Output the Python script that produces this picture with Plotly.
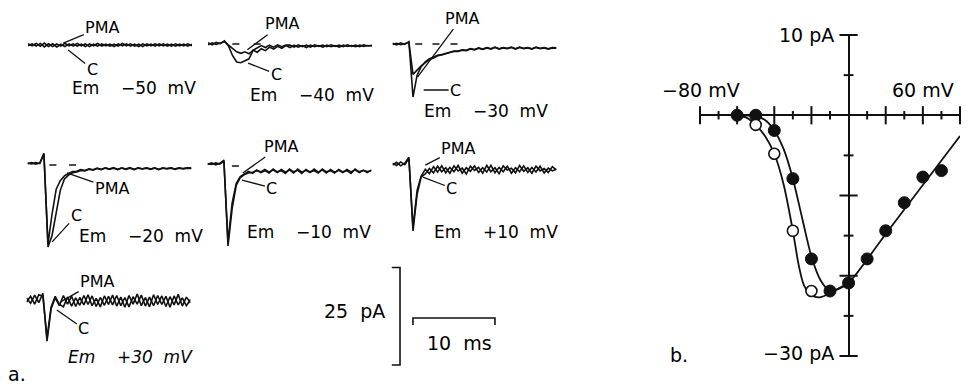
import plotly.graph_objects as go

W, H = 969, 385

# ---------------- data: panel a (current traces, pA vs ms) ----------------
T_MS = [0.0, 0.5, 1.0, 1.5, 2.0, 2.5, 3.0, 3.5, 4.0, 4.5,
        5.0, 5.5, 6.0, 6.5, 7.0, 7.5, 8.0, 8.5, 9.0, 9.5,
        10.0, 10.5, 11.0, 11.5, 12.0, 12.5, 13.0, 13.5, 14.0, 14.5,
        15.0, 15.5, 16.0, 16.5, 17.0, 17.5, 18.0, 18.5, 19.0, 19.5,
        20.0]

C_M50 = [0.3, -0.2, 0.4, -0.3, 0.5, -0.4, 0.3, -0.5, 0.2, -0.4,
         0.3, -0.3, 0.4, -0.2, 0.3, -0.4, 0.2, -0.3, 0.3, -0.2,
         0.2, -0.4, 0.3, -0.2, 0.3, -0.3, 0.2, -0.4, 0.3, -0.2,
         0.2, -0.3, 0.3, -0.2, 0.2, -0.3, 0.3, -0.2, 0.2, -0.3,
         0.2]
P_M50 = [-0.2, 0.3, -0.3, 0.4, -0.5, 0.3, -0.4, 0.3, -0.3, 0.4,
         -0.2, 0.3, -0.3, 0.2, -0.4, 0.3, -0.2, 0.4, -0.3, 0.2,
         -0.3, 0.2, -0.3, 0.4, -0.2, 0.3, -0.3, 0.2, -0.4, 0.3,
         -0.2, 0.3, -0.2, 0.3, -0.3, 0.2, -0.3, 0.2, -0.2, 0.3,
         -0.2]

C_M40 = [0.3, -0.2, 0.4, 0.1, 0.8, -0.5, -3.0, -4.6, -4.8, -4.3,
         -3.8, -1.6, -0.9, -0.4, -0.9, -0.3, -0.8, -0.2, -0.7, -0.3,
         -0.3, -0.8, -0.2, -0.7, -0.3, -0.8, -0.2, -0.6, -0.3, -0.7,
         -0.2, -0.6, -0.3, -0.7, -0.2, -0.6, -0.3, -0.7, -0.2, -0.5,
         -0.3]
P_M40 = [-0.2, 0.3, -0.1, 0.2, 0.6, -0.3, -1.2, -2.0, -2.4, -2.0,
         -2.5, -1.6, -2.1, -1.2, -1.7, -0.8, -1.3, -0.6, -1.1, -0.4,
         -0.9, -0.3, -0.8, -0.4, -0.9, -0.3, -0.7, -0.4, -0.8, -0.3,
         -0.7, -0.4, -0.8, -0.3, -0.6, -0.4, -0.7, -0.3, -0.6, -0.4,
         -0.5]

C_M30 = [0.2, -0.2, 0.3, -0.1, 0.6, -13.6, -8.0, -5.8, -4.6, -3.8,
         -3.4, -2.9, -2.7, -2.3, -2.1, -1.8, -1.8, -1.5, -1.6, -1.2,
         -1.4, -1.0, -1.3, -0.9, -1.2, -0.8, -1.2, -0.9, -1.1, -0.8,
         -1.2, -0.8, -1.1, -0.9, -1.2, -0.8, -1.1, -0.9, -1.2, -0.9,
         -1.0]
P_M30 = [-0.1, 0.2, -0.2, 0.2, 0.4, -7.8, -6.6, -5.6, -4.8, -4.0,
         -3.6, -3.0, -2.8, -2.4, -2.2, -1.9, -1.9, -1.6, -1.7, -1.3,
         -1.5, -1.1, -1.4, -1.0, -1.3, -0.9, -1.3, -1.0, -1.2, -0.9,
         -1.3, -0.9, -1.2, -1.0, -1.3, -0.9, -1.2, -1.0, -1.3, -1.0,
         -1.1]

C_M20 = [0.3, 0.6, 0.2, 0.5, 3.0, -21.0, -18.0, -12.0, -6.5, -3.6,
         -2.6, -2.0, -1.8, -1.4, -1.5, -1.1, -1.3, -0.9, -1.2, -0.8,
         -1.1, -0.7, -1.2, -0.8, -1.1, -0.7, -1.2, -0.8, -1.0, -0.7,
         -1.1, -0.8, -1.2, -0.7, -1.0, -0.8, -1.1, -0.7, -1.0, -0.8,
         -0.9]
P_M20 = [0.5, 0.3, 0.6, 0.4, 2.8, -20.2, -12.5, -6.2, -4.0, -2.8,
         -2.2, -1.7, -1.6, -1.2, -1.4, -1.0, -1.2, -0.8, -1.1, -0.7,
         -1.0, -0.8, -1.1, -0.7, -1.0, -0.8, -1.1, -0.7, -1.0, -0.8,
         -1.0, -0.7, -1.1, -0.8, -0.9, -0.7, -1.0, -0.8, -0.9, -0.7,
         -0.8]

C_M10 = [0.4, 0.8, 0.3, 0.7, 1.5, -20.5, -11.0, -5.0, -3.0, -2.2,
         -1.8, -1.6, -1.2, -1.5, -0.9, -1.6, -1.0, -1.7, -0.9, -1.6,
         -1.0, -1.8, -0.8, -1.6, -1.1, -1.7, -0.8, -1.6, -1.0, -1.8,
         -0.9, -1.6, -1.1, -1.7, -0.9, -1.5, -1.0, -1.7, -1.1, -1.4,
         -1.2]
P_M10 = [0.6, 0.4, 0.8, 0.5, 1.2, -19.5, -9.5, -4.5, -2.7, -2.0,
         -1.4, -1.9, -1.0, -1.7, -1.2, -1.8, -0.8, -1.5, -1.2, -1.9,
         -0.8, -1.5, -1.1, -1.9, -0.9, -1.5, -1.2, -1.8, -0.8, -1.5,
         -1.2, -1.8, -0.9, -1.5, -1.2, -1.9, -0.8, -1.5, -1.1, -1.7,
         -1.0]

C_P10 = [0.5, 1.2, 0.3, 1.0, 2.5, -16.4, -7.0, -2.5, -1.8, -0.4,
         -1.5, 0.2, -1.2, -0.2, -1.6, 0.3, -1.0, -0.3, -1.8, 0.2,
         -0.9, -0.1, -1.6, 0.4, -1.2, -0.2, -1.7, 0.3, -0.8, -0.3,
         -1.5, 0.4, -1.1, -0.2, -1.6, 0.2, -1.0, -0.4, -1.4, 0.1,
         -0.8]
P_P10 = [1.0, 0.4, 1.3, 0.6, 2.2, -15.5, -6.0, -2.3, -0.6, -1.7,
         0.1, -1.3, 0.3, -1.5, -0.1, -1.2, 0.4, -1.6, -0.2, -1.1,
         0.3, -1.4, -0.2, -1.3, 0.4, -1.5, -0.1, -1.2, 0.2, -1.6,
         -0.2, -1.2, 0.3, -1.4, -0.1, -1.3, 0.2, -1.5, -0.3, -1.0,
         -0.5]

C_P30 = [0.8, -0.6, 1.5, -0.4, 2.0, -10.3, -2.0, 0.8, -1.2, 1.4,
         -0.8, 1.2, -1.4, 0.9, -1.0, 1.6, -1.2, 0.7, -1.5, 1.3,
         -0.9, 1.5, -1.3, 1.0, -1.6, 1.4, -0.8, 1.8, -1.2, 0.9,
         -1.5, 1.6, -0.9, 1.3, -1.4, 1.1, -1.0, 1.7, -1.3, 1.0,
         -0.5]
P_P30 = [-0.3, 1.2, -0.8, 1.6, 1.2, -9.5, -1.5, 1.2, -0.8, -1.5,
         1.0, -1.3, 0.8, -1.1, 1.4, -0.9, 1.3, -1.4, 0.9, -1.1,
         1.2, -1.0, 1.4, -1.2, 0.9, -1.5, 1.1, -0.8, 1.5, -1.3,
         1.0, -1.2, 1.4, -0.9, 1.2, -1.6, 1.3, -1.0, 0.8, -1.2,
         0.4]

TRACE_LABELS = ["−50 mV", "−40 mV", "−30 mV", "−20 mV", "−10 mV", "+10 mV", "+30 mV"]
C_TRACES = [C_M50, C_M40, C_M30, C_M20, C_M10, C_P10, C_P30]
P_TRACES = [P_M50, P_M40, P_M30, P_M20, P_M10, P_P10, P_P30]
# zero-current reference dashes (ms)
ZERO_DASH_T = [[], [3.4, 6.0], [3.2, 5.3, 7.5], [3.1, 5.5], [3.4], [], []]

SCALE_MS = 10
SCALE_PA = 25

# ---------------- data: panel b (I-V relation) ----------------
V_FILLED = [-60, -50, -40, -30, -20, -10, 0, 10, 20, 30, 40, 50]
I_FILLED = [0.0, 0.0, -1.9, -7.9, -17.9, -21.9, -20.9, -17.9, -14.4, -10.9, -7.7, -6.9]
V_OPEN = [-50, -40, -30, -20]
I_OPEN = [-1.2, -4.8, -14.4, -21.9]
FIT_FILLED_V = [-60, -50, -45, -40, -35, -30, -25, -20, -15, -10, -5, 0, 20, 40, 60]
FIT_FILLED_I = [0.0, -0.1, -0.6, -1.9, -4.2, -7.9, -12.8, -17.6, -20.6, -21.9, -21.6, -20.9, -14.8, -8.7, -2.6]
FIT_OPEN_V = [-60, -55, -50, -45, -40, -35, -30, -27, -24, -20, -16, -12, -8, -4, 0]
FIT_OPEN_I = [0.0, -0.3, -1.2, -2.6, -4.8, -8.6, -14.4, -18.5, -21.2, -22.4, -22.7, -22.4, -21.9, -21.4, -20.9]
IV_XTICK_MAJOR = [-80, -60, -40, -20, 20, 40, 60]
IV_XTICK_MINOR = [-70, -50, -30, -10, 10, 30, 50]
IV_YTICK_MAJOR = [10, -10, -20, -30]
IV_YTICK_MINOR = [5, -5, -15, -25]

# ---------------- layout geometry (pixels) ----------------
PX_MS = 8.2
PX_PA = 3.9
# left px, zero-current px, I range
TRACE_BOX = [(28, 45, -24, 6), (208, 44, -24, 6), (392.5, 44, -24, 6),
             (27.5, 165, -24, 6), (207.5, 166, -24, 6), (392.5, 167, -24, 6),
             (26.5, 301, -12, 5)]
FONT = "DejaVu Sans"
INK = "#111111"


def xd(px0, px1):
    return [px0 / W, px1 / W]


def yd(top, bottom):
    return [1 - bottom / H, 1 - top / H]


def px(x, y):
    return x / W, 1 - y / H


fig = go.Figure()
layout = dict(width=W, height=H, margin=dict(l=0, r=0, t=0, b=0),
              paper_bgcolor="white", plot_bgcolor="rgba(0,0,0,0)",
              showlegend=False, font=dict(family=FONT, color="black"))
ann = []

hidden = dict(visible=False, fixedrange=True)

for k, (left, zero, imin, imax) in enumerate(TRACE_BOX):
    n = k + 1
    xa = "xaxis" if n == 1 else f"xaxis{n}"
    ya = "yaxis" if n == 1 else f"yaxis{n}"
    xr = "x" if n == 1 else f"x{n}"
    yr = "y" if n == 1 else f"y{n}"
    layout[xa] = dict(hidden, domain=xd(left, left + 20 * PX_MS), range=[0, 20], anchor=yr)
    layout[ya] = dict(hidden, domain=yd(zero - imax * PX_PA, zero - imin * PX_PA),
                      range=[imin, imax], anchor=xr)
    for series in (P_TRACES[k], C_TRACES[k]):
        fig.add_trace(go.Scatter(x=T_MS, y=series, xaxis=xr, yaxis=yr, mode="lines",
                                 line=dict(color=INK, width=1.6), hoverinfo="skip"))
    if ZERO_DASH_T[k]:
        fig.add_trace(go.Scatter(x=ZERO_DASH_T[k], y=[0] * len(ZERO_DASH_T[k]),
                                 xaxis=xr, yaxis=yr, mode="markers",
                                 marker=dict(symbol="line-ew", size=5,
                                             line=dict(color=INK, width=1.6)),
                                 hoverinfo="skip"))

# label pointers: (trace idx, PMA tip t, I, ax, ay, C tip t, I, ax, ay, Em centre px)
LABELS = [
    (0, 4.3, 0.5, 39, -16, 4.9, -1.3, 24, 19, (134, 88)),
    (1, 4.8, -1.5, 35, -26, 4.9, -4.9, 28, 11, (312, 95)),
    (2, 3.05, -8.5, 44, -59, 3.8, -11.8, 32, 0, (486, 111)),
    (3, 4.8, -2.0, 45, 16, 3.0, -19.7, 24, -26, (141, 236)),
    (4, 4.3, -1.8, 38, -27, 4.2, -3.6, 30, 8, (309, 232)),
    (5, 4.0, 0.5, 33, -17, 3.7, -2.6, 29, 11, (496, 232)),
    (6, 4.1, -0.3, 37, -21, 3.7, -2.3, 27, 19, (130, 357)),
]
NB = "\u00a0"
for (k, pt, pi, pax, pay, ct, ci, cax, cay, em) in LABELS:
    n = k + 1
    xr = "x" if n == 1 else f"x{n}"
    yr = "y" if n == 1 else f"y{n}"
    common = dict(xref=xr, yref=yr, showarrow=True, arrowhead=0, arrowwidth=1.3,
                  arrowcolor=INK, font=dict(size=16, family=FONT, color="black"))
    ann.append(dict(common, x=pt, y=pi, ax=pax, ay=pay, text="PMA"))
    ann.append(dict(common, x=ct, y=ci, ax=cax, ay=cay, text="C"))
    ex, ey = px(*em)
    txt = "Em" + NB * 4 + TRACE_LABELS[k].replace(" ", NB * 2)
    if k == 6:
        txt = "<i>" + txt + "</i>"
    ann.append(dict(x=ex, y=ey, xref="paper", yref="paper", showarrow=False,
                    xanchor="center", yanchor="middle",
                    text=txt, font=dict(size=17, family=FONT, color="black")))

# ---------------- scale bars (subplot 8) ----------------
SB_LEFT, SB_RIGHT, SB_TOP, SB_BOTTOM = 380, 510, 260, 372
layout["xaxis8"] = dict(hidden, domain=xd(SB_LEFT, SB_RIGHT),
                        range=[0, (SB_RIGHT - SB_LEFT) / PX_MS], anchor="y8")
layout["yaxis8"] = dict(hidden, domain=yd(SB_TOP, SB_BOTTOM),
                        range=[0, (SB_BOTTOM - SB_TOP) / PX_PA], anchor="x8")
vx, vy0 = 2.44, 1.8
hook = 1.0
fig.add_trace(go.Scatter(x=[vx - hook, vx, vx, vx - hook],
                         y=[vy0 + SCALE_PA, vy0 + SCALE_PA, vy0, vy0],
                         xaxis="x8", yaxis="y8", mode="lines",
                         line=dict(color=INK, width=1.6), hoverinfo="skip"))
hx0, hy = 4.02, 13.85
tick = 1.8
fig.add_trace(go.Scatter(x=[hx0, hx0, hx0 + SCALE_MS, hx0 + SCALE_MS],
                         y=[hy - tick, hy, hy, hy - tick],
                         xaxis="x8", yaxis="y8", mode="lines",
                         line=dict(color=INK, width=1.6), hoverinfo="skip"))
for txt, (cx, cy) in ((f"{SCALE_PA}{NB*2}pA", (354, 311)), (f"{SCALE_MS}{NB*2}ms", (459, 343))):
    x, y = px(cx, cy)
    ann.append(dict(x=x, y=y, xref="paper", yref="paper", showarrow=False, text=txt,
                    xanchor="center", yanchor="middle",
                    font=dict(size=19, family=FONT, color="black")))

# ---------------- panel b: I-V (subplot 9) ----------------
layout["xaxis9"] = dict(domain=xd(700, 960), range=[-80, 60], anchor="y9",
                        showgrid=False, showticklabels=False, ticks="", showline=False,
                        zeroline=True, zerolinecolor=INK, zerolinewidth=2, fixedrange=True)
layout["yaxis9"] = dict(domain=yd(35, 356), range=[-30, 10], anchor="x9",
                        showgrid=False, showticklabels=False, ticks="", showline=False,
                        zeroline=True, zerolinecolor=INK, zerolinewidth=2, fixedrange=True)


def tickmarks(xs, ys, sym, size):
    fig.add_trace(go.Scatter(x=xs, y=ys, xaxis="x9", yaxis="y9", mode="markers",
                             cliponaxis=False, hoverinfo="skip",
                             marker=dict(symbol=sym, size=size, line=dict(color=INK, width=2))))


tickmarks(IV_XTICK_MAJOR, [0] * len(IV_XTICK_MAJOR), "line-ns", 13)
tickmarks(IV_XTICK_MINOR, [0] * len(IV_XTICK_MINOR), "line-ns", 6)
tickmarks([0] * len(IV_YTICK_MAJOR), IV_YTICK_MAJOR, "line-ew", 13)
tickmarks([0] * len(IV_YTICK_MINOR), IV_YTICK_MINOR, "line-ew", 7)

fig.add_trace(go.Scatter(x=FIT_OPEN_V, y=FIT_OPEN_I, xaxis="x9", yaxis="y9", mode="lines",
                         line=dict(color=INK, width=1.8, shape="spline", smoothing=0.8),
                         cliponaxis=False, hoverinfo="skip"))
fig.add_trace(go.Scatter(x=FIT_FILLED_V, y=FIT_FILLED_I, xaxis="x9", yaxis="y9", mode="lines",
                         line=dict(color=INK, width=1.8, shape="spline", smoothing=0.8),
                         cliponaxis=False, hoverinfo="skip"))
fig.add_trace(go.Scatter(x=V_FILLED, y=I_FILLED, xaxis="x9", yaxis="y9", mode="markers",
                         marker=dict(size=12, color=INK, line=dict(color=INK, width=1)),
                         cliponaxis=False, hoverinfo="skip"))
fig.add_trace(go.Scatter(x=V_OPEN, y=I_OPEN, xaxis="x9", yaxis="y9", mode="markers",
                         marker=dict(size=11, color="white", line=dict(color=INK, width=1.6)),
                         cliponaxis=False, hoverinfo="skip"))

for txt, (cx, cy), anchor in (("10" + NB + "pA", (836, 35), "right"),
                              ("−30" + NB + "pA", (836, 353), "right"),
                              ("−80" + NB + "mV", (660, 90), "left"),
                              ("60" + NB + "mV", (890, 90), "left"),
                              ("b.", (668, 355), "left"),
                              ("a.", (6, 374), "left")):
    x, y = px(cx, cy)
    ann.append(dict(x=x, y=y, xref="paper", yref="paper", showarrow=False, text=txt,
                    xanchor=anchor, yanchor="middle",
                    font=dict(size=19, family=FONT, color="black")))

layout["annotations"] = ann
fig.update_layout(**layout)
fig.write_html("out.html", config={"displayModeBar": False},
               post_script="document.body.style.margin='0';document.body.style.padding='0';"
                           "document.body.style.overflow='hidden';")
